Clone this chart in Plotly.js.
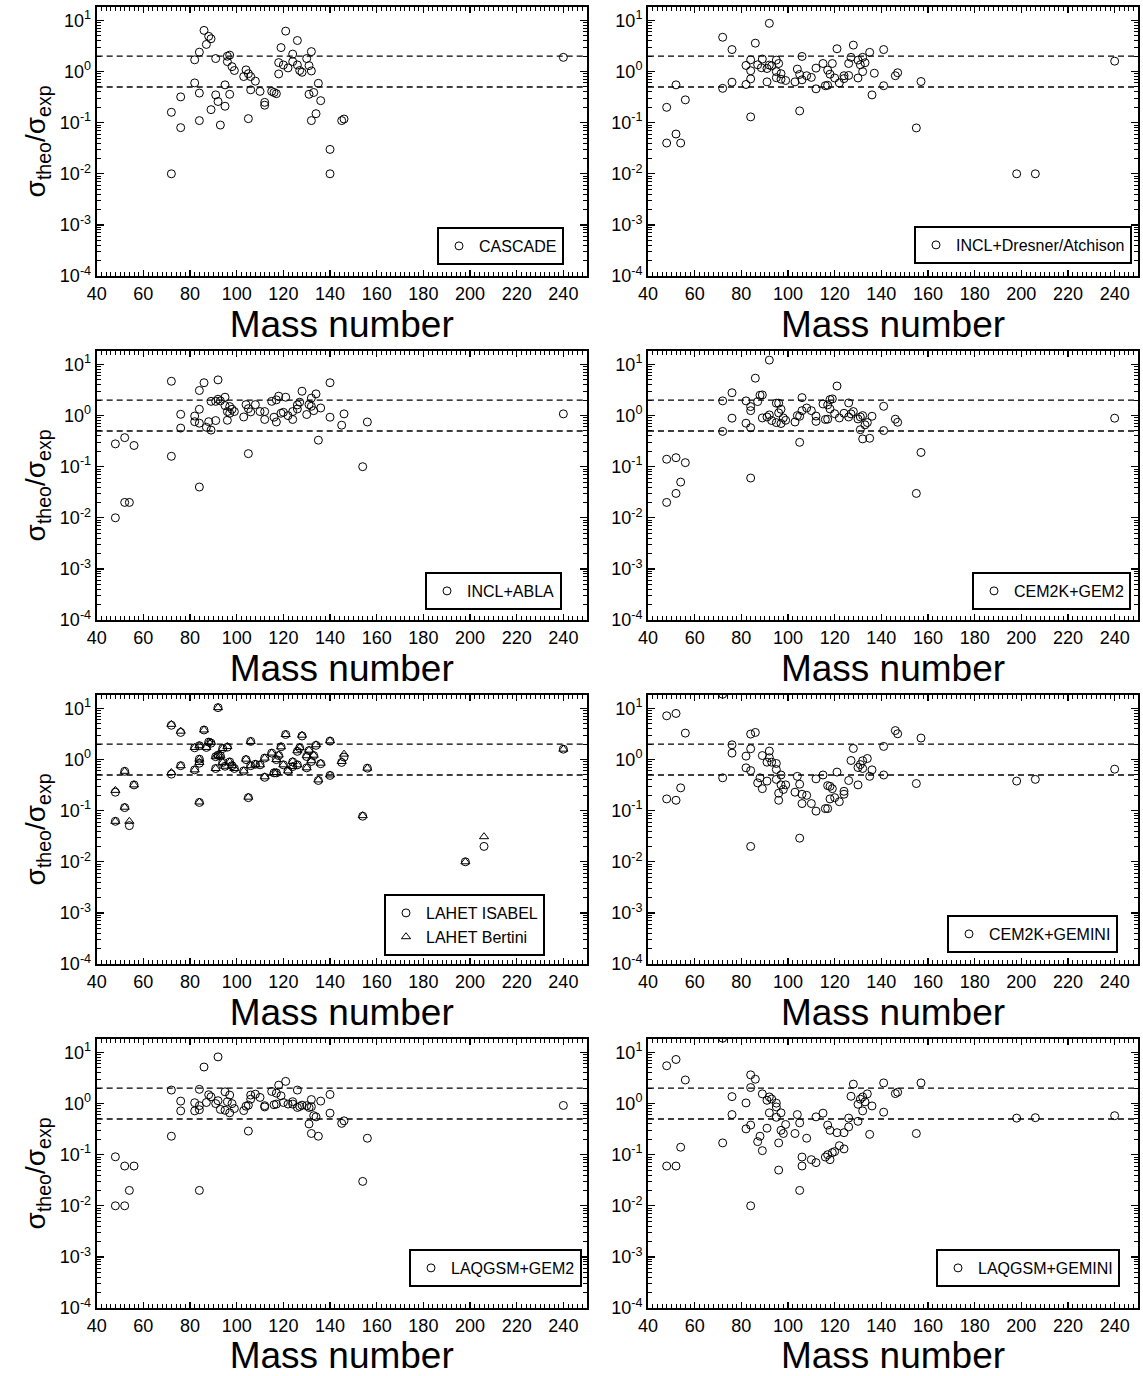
<!DOCTYPE html>
<html>
<head>
<meta charset="utf-8">
<script src="https://cdn.plot.ly/plotly-3.0.1.min.js"></script>
<style>html,body{margin:0;padding:0;background:#fff;}#chart{width:1143px;height:1376px;}</style>
</head>
<body>
<div id="chart"></div>
<script>
// ---------------- DATA (mass number, sigma_theo/sigma_exp) ----------------
const cascade = [[86,6.4],[88,4.9],[89,4.4],[87,3.4],[84,2.4],[82,1.7],[91,1.8],[96,2.0],[97,2.1],[96,1.57],[98,1.25],[99,1.05],[82,0.6],[84,0.38],[76,0.32],[72,0.16],[76,0.08],[72,0.01],[84,0.11],[89,0.18],[91,0.35],[92,0.26],[95,0.55],[95,0.21],[97,0.36],[93,0.09],[104,1.08],[105,0.91],[103,0.8],[106,0.8],[108,0.65],[106,0.44],[110,0.41],[112,0.25],[112,0.22],[105,0.12],[115,0.41],[116,0.39],[117,0.37],[118,0.9],[118,1.5],[119,2.95],[121,6.2],[120,1.35],[122,1.18],[124,2.2],[124,1.57],[126,4.06],[126,1.35],[127,1.05],[128,0.97],[130,1.8],[131,1.31],[132,2.46],[132,1.03],[135,0.59],[131,0.36],[133,0.39],[136,0.27],[134,0.15],[132,0.11],[145,0.11],[146,0.118],[140,0.03],[140,0.01],[240,1.9]];

const inclDresner = [[48,0.2],[48,0.04],[52,0.55],[52,0.06],[54,0.04],[56,0.28],[72,4.7],[92,8.8],[76,2.7],[86,3.6],[72,0.47],[76,0.62],[84,0.13],[82,0.56],[84,0.72],[84,1.04],[84,1.7],[82,1.32],[87,1.36],[89,1.76],[88.6,1.19],[91,1.15],[92,1.34],[93,1.3],[95,1.68],[96,1.44],[95,1.0],[97,0.91],[95,0.76],[97,0.71],[99,0.67],[91,0.63],[103,0.63],[104,1.12],[105,0.88],[106,0.69],[106,1.98],[108,0.83],[110,0.77],[112,1.17],[112,0.46],[105,0.17],[115,1.44],[117,1.07],[118,0.89],[119,1.44],[120,0.75],[116,0.53],[117,0.54],[122,0.6],[121,2.8],[124,0.73],[124,0.83],[126,0.84],[126,1.44],[127,1.9],[128,3.3],[130,0.75],[130,1.68],[131,1.36],[132,1.9],[133,1.49],[132,1.0],[135,2.38],[136,0.35],[137,0.93],[141,2.7],[141,0.53],[146,0.83],[147,0.95],[157,0.64],[155,0.079],[198,0.01],[206,0.01],[240,1.6]];

const inclAbla = [[48,0.28],[52,0.37],[56,0.26],[48,0.01],[52,0.02],[54,0.02],[72,4.7],[72,0.16],[76,1.06],[76,0.57],[82,0.98],[82,0.76],[84,1.33],[84,0.71],[84,3.1],[86,4.4],[84,0.04],[87,0.59],[88,0.76],[89,0.52],[91,0.8],[92,5.0],[89,1.9],[91,1.9],[92,2.09],[93,1.94],[95,2.29],[95,1.57],[96,1.2],[96,0.81],[97,1.5],[97,1.11],[98,1.33],[99,1.2],[103,0.94],[104,1.64],[105,1.37],[106,1.18],[108,1.64],[110,1.2],[112,1.2],[112,0.84],[105,0.18],[115,1.9],[116,0.93],[117,0.75],[117,2.03],[118,2.4],[119,1.11],[120,1.16],[121,2.29],[122,1.0],[124,0.84],[124,1.2],[126,1.35],[126,1.62],[127,1.83],[128,3.0],[130,1.05],[131,1.64],[132,1.52],[132,2.2],[133,1.25],[134,2.66],[136,1.41],[135,0.33],[140,4.4],[140,0.93],[145,0.65],[146,1.08],[156,0.75],[154,0.1],[240,1.08]];

const cem2kGem2 = [[48,0.14],[52,0.15],[56,0.12],[54,0.05],[52,0.03],[48,0.02],[92,12.2],[86,5.4],[76,2.8],[72,1.94],[72,0.49],[76,0.89],[82,1.94],[82,0.71],[84,1.5],[84,1.25],[84,0.58],[84,0.06],[87,1.88],[88,2.5],[89,2.54],[89,0.9],[91,0.94],[92,1.03],[93,0.8],[95,0.73],[95,1.75],[96,1.75],[96,1.13],[97,1.33],[97,0.7],[98,0.9],[99,0.81],[103,0.75],[104,1.0],[105,0.97],[106,2.25],[106,1.25],[105,0.3],[108,1.41],[110,1.25],[112,0.98],[112,0.77],[115,1.69],[116,0.84],[117,0.85],[117,1.62],[118,1.35],[118,2.06],[119,2.12],[120,1.09],[121,3.8],[122,0.9],[124,1.11],[126,0.94],[126,1.77],[127,1.08],[128,1.2],[130,0.86],[131,0.94],[131,0.53],[132,1.0],[132,0.35],[133,0.66],[134,0.73],[135,0.36],[136,0.97],[141,1.52],[141,0.51],[146,0.85],[147,0.74],[157,0.19],[155,0.03],[240,0.89]];

const lahetIsabel = [[92,10.4],[72,4.7],[76,3.4],[86,3.8],[82,1.7],[84,1.87],[87,1.73],[89,2.1],[88,2.2],[92,1.22],[91,1.14],[93,1.19],[96,1.75],[94,1.65],[84,1.02],[84,0.85],[82,0.63],[72,0.52],[76,0.76],[91,0.67],[94,0.88],[95,0.74],[97,0.9],[98,0.76],[99,0.67],[103,0.6],[104,1.0],[106,2.27],[106,0.76],[108,0.81],[110,0.79],[112,0.45],[112,1.07],[115,1.34],[116,0.55],[117,0.55],[117,1.0],[118,1.2],[119,1.78],[120,0.79],[121,3.1],[122,0.6],[124,0.9],[124,0.73],[126,1.45],[126,0.79],[127,1.7],[128,2.9],[130,1.15],[130,0.69],[131,1.5],[132,0.92],[133,1.2],[134,1.9],[136,0.83],[135,0.39],[140,2.3],[140,0.49],[145,0.88],[146,1.12],[156,0.68],[154,0.078],[198,0.01],[206,0.02],[240,1.6],[52,0.59],[48,0.23],[56,0.32],[52,0.115],[48,0.062],[54,0.051],[84,0.145],[105,0.18]];

const lahetBertini = [[92,10.4],[72,4.9],[76,3.6],[86,3.8],[82,1.73],[84,1.87],[87,1.73],[89,2.17],[88,2.2],[92,1.22],[91,1.14],[93,1.19],[96,1.8],[94,1.65],[84,1.02],[84,0.88],[82,0.63],[72,0.56],[76,0.76],[91,0.67],[94,0.88],[95,0.74],[97,0.9],[98,0.76],[99,0.67],[103,0.6],[104,1.02],[106,2.27],[106,0.76],[108,0.81],[110,0.79],[112,0.46],[112,1.07],[115,1.34],[116,0.56],[117,0.56],[117,1.0],[118,1.23],[119,1.78],[120,0.79],[121,3.1],[122,0.6],[124,0.92],[124,0.73],[126,1.49],[126,0.79],[127,1.73],[128,3.0],[130,1.19],[130,0.69],[131,1.53],[132,0.95],[133,1.22],[134,1.95],[136,0.85],[135,0.4],[140,2.33],[140,0.5],[145,0.92],[146,1.28],[156,0.68],[154,0.08],[198,0.01],[206,0.031],[240,1.6],[52,0.59],[48,0.25],[56,0.32],[52,0.117],[48,0.062],[54,0.062],[84,0.148],[105,0.184]];

const cem2kGemini = [[48,7.2],[52,8.0],[56,3.3],[48,0.17],[52,0.16],[54,0.28],[72,19],[76,1.95],[76,1.34],[72,0.44],[84,3.16],[86,3.4],[84,1.63],[82,1.17],[82,0.69],[84,0.61],[84,0.02],[89,1.2],[92,1.47],[92,1.09],[93,0.89],[91,0.89],[95,0.84],[95,0.64],[88,0.44],[87,0.35],[89,0.27],[91,0.38],[95,0.41],[97,0.5],[97,0.32],[96,0.22],[96,0.16],[98,0.26],[99,0.32],[103,0.23],[104,0.47],[105,0.33],[106,0.21],[108,0.2],[106,0.138],[105,0.029],[110,0.138],[112,0.098],[112,0.42],[115,0.5],[116,0.11],[117,0.11],[117,0.31],[118,0.3],[119,0.27],[118,0.17],[120,0.18],[121,0.57],[122,0.15],[124,0.24],[124,0.21],[126,0.39],[127,0.96],[128,1.65],[130,0.32],[130,0.7],[131,0.8],[132,0.95],[132,0.67],[134,1.05],[135,0.47],[136,0.63],[141,1.81],[141,0.5],[146,3.7],[147,3.2],[157,2.64],[155,0.34],[198,0.38],[206,0.41],[240,0.65]];

const laqgsmGem2 = [[48,0.091],[52,0.06],[56,0.06],[48,0.01],[52,0.01],[54,0.02],[72,0.23],[72,1.84],[76,1.12],[76,0.72],[82,1.04],[82,0.72],[84,1.9],[84,0.91],[84,0.76],[84,0.02],[86,5.2],[87,1.05],[88,1.49],[89,1.36],[91,1.0],[92,8.2],[92,1.14],[93,0.77],[95,1.7],[95,0.74],[96,1.09],[97,1.47],[97,0.66],[98,1.0],[99,0.8],[103,0.73],[104,0.89],[105,0.93],[105,0.29],[106,1.47],[106,1.22],[108,1.53],[110,1.32],[112,0.91],[112,0.86],[115,1.73],[116,0.95],[117,1.6],[117,0.98],[118,2.3],[119,1.42],[120,1.05],[121,2.72],[122,0.98],[124,1.09],[124,0.98],[126,1.84],[126,0.84],[127,0.88],[128,0.93],[130,0.91],[131,0.84],[132,1.2],[132,0.87],[133,0.58],[134,0.55],[131,0.4],[132,0.26],[135,0.23],[136,1.12],[140,1.51],[140,0.65],[145,0.41],[146,0.46],[156,0.21],[154,0.03],[240,0.92]];

const laqgsmGemini = [[48,5.5],[52,7.3],[56,2.9],[48,0.06],[52,0.06],[54,0.14],[72,19],[72,0.17],[76,1.37],[76,0.61],[84,3.65],[86,3.0],[84,2.06],[82,1.03],[82,0.32],[84,0.38],[84,0.01],[89,1.55],[92,1.35],[93,1.23],[91,1.16],[95,1.02],[95,0.86],[92,0.66],[95,0.54],[97,0.66],[91,0.33],[88,0.23],[87,0.18],[89,0.12],[97,0.3],[99,0.39],[98,0.26],[96,0.17],[96,0.05],[103,0.26],[104,0.61],[105,0.42],[108,0.21],[106,0.09],[106,0.06],[105,0.02],[110,0.08],[112,0.07],[112,0.55],[115,0.65],[116,0.09],[117,0.1],[118,0.08],[119,0.11],[120,0.115],[117,0.38],[118,0.3],[121,0.27],[122,0.15],[124,0.13],[124,0.27],[126,0.35],[126,0.52],[127,1.39],[128,2.4],[130,0.45],[130,0.97],[131,1.22],[132,1.35],[133,1.08],[132,0.72],[134,1.55],[135,0.25],[136,0.9],[141,2.54],[141,0.68],[146,1.57],[147,1.67],[157,2.54],[155,0.26],[198,0.52],[206,0.53],[240,0.58]];

// series per panel: [name, data, symbol]
const panelSeries = [
  [["CASCADE", cascade, "circle-open"]],
  [["INCL+Dresner/Atchison", inclDresner, "circle-open"]],
  [["INCL+ABLA", inclAbla, "circle-open"]],
  [["CEM2K+GEM2", cem2kGem2, "circle-open"]],
  [["LAHET ISABEL", lahetIsabel, "circle-open"], ["LAHET Bertini", lahetBertini, "triangle-up-open"]],
  [["CEM2K+GEMINI", cem2kGemini, "circle-open"]],
  [["LAQGSM+GEM2", laqgsmGem2, "circle-open"]],
  [["LAQGSM+GEMINI", laqgsmGemini, "circle-open"]]
];

const guideLevels = [2, 0.5];
const xTickVals = [40, 60, 80, 100, 120, 140, 160, 180, 200, 220, 240];
const yTickVals = [1e-4, 1e-3, 1e-2, 1e-1, 1, 10];
const yTickText = ["10<sup>-4</sup>", "10<sup>-3</sup>", "10<sup>-2</sup>", "10<sup>-1</sup>", "10<sup>0</sup>", "10<sup>1</sup>"];
const xTitle = "Mass number";
const yTitle = "σ<sub>theo</sub>/σ<sub>exp</sub>";

// ---------------- LAYOUT ----------------
const W = 1143, H = 1376;
const FONT = "Liberation Sans, Arial, Helvetica, sans-serif";
const colX = [[96.7, 586.7], [648, 1138]];
const rowTop = 6.7, rowBottom = 276, rowStep = 344;
// legend box: right edge (px), vertical centre (px)
const legendPos = [[564, 246], [1132, 245], [562, 591], [1131, 591], [545, 925], [1118, 934], [582, 1268], [1120, 1268]];

const traces = [];
const layout = {
  width: W, height: H,
  margin: {l: 0, r: 0, t: 0, b: 0},
  paper_bgcolor: "white", plot_bgcolor: "white",
  font: {family: FONT, color: "black"},
  showlegend: true,
  shapes: []
};

panelSeries.forEach((series, p) => {
  const n = p + 1;
  const sfx = n === 1 ? "" : String(n);
  const row = Math.floor(p / 2), col = p % 2;
  const xd = [colX[col][0] / W, colX[col][1] / W];
  const yd = [1 - (rowBottom + row * rowStep) / H, 1 - (rowTop + row * rowStep) / H];
  const legName = "legend" + sfx;

  series.forEach(([name, data, symbol]) => {
    traces.push({
      type: "scatter", mode: "markers",
      x: data.map(d => d[0]), y: data.map(d => d[1]),
      name: name, xaxis: "x" + sfx, yaxis: "y" + sfx, legend: legName,
      marker: {symbol: symbol, size: 8, color: "black", line: {width: 1, color: "black"}},
      hoverinfo: "x+y"
    });
  });

  layout["xaxis" + sfx] = {
    domain: xd, anchor: "y" + sfx, range: [40, 250],
    tickmode: "array", tickvals: xTickVals,
    ticks: "inside", ticklen: 6, tickwidth: 1.2, tickcolor: "black",
    minor: {dtick: 2, tick0: 40, ticks: "inside", ticklen: 4, tickwidth: 1, tickcolor: "black"},
    showline: true, linewidth: 2, linecolor: "black", mirror: "ticks",
    showgrid: false, zeroline: false,
    tickfont: {size: 18, family: FONT},
    title: {text: xTitle, font: {size: 37, family: FONT}, standoff: 0}
  };
  const yax = {
    domain: yd, anchor: "x" + sfx, type: "log", range: [-4, 1.27],
    tickmode: "array", tickvals: yTickVals, ticktext: yTickText,
    ticks: "inside", ticklen: 7, tickwidth: 1.2, tickcolor: "black",
    minor: {dtick: "D1", ticks: "inside", ticklen: 4, tickwidth: 1, tickcolor: "black"},
    showline: true, linewidth: 2, linecolor: "black", mirror: "ticks",
    showgrid: false, zeroline: false,
    tickfont: {size: 18, family: FONT}
  };
  if (col === 0) yax.title = {text: yTitle, font: {size: 28, family: FONT}, standoff: 6};
  layout["yaxis" + sfx] = yax;

  guideLevels.forEach(lv => {
    layout.shapes.push({
      type: "line", xref: "x" + sfx + " domain", x0: 0, x1: 1,
      yref: "y" + sfx, y0: lv, y1: lv,
      line: {color: "black", width: 1.3, dash: "6px,4px"}, layer: "below"
    });
  });

  layout[legName] = {
    x: legendPos[p][0] / W, y: 1 - legendPos[p][1] / H,
    xref: "paper", yref: "paper", xanchor: "right", yanchor: "middle",
    bgcolor: "white", bordercolor: "black", borderwidth: 2,
    font: {size: 16, family: FONT}, itemwidth: 30, tracegroupgap: 0
  };
});

Plotly.newPlot("chart", traces, layout, {displayModeBar: false, staticPlot: true});
</script>
</body>
</html>
